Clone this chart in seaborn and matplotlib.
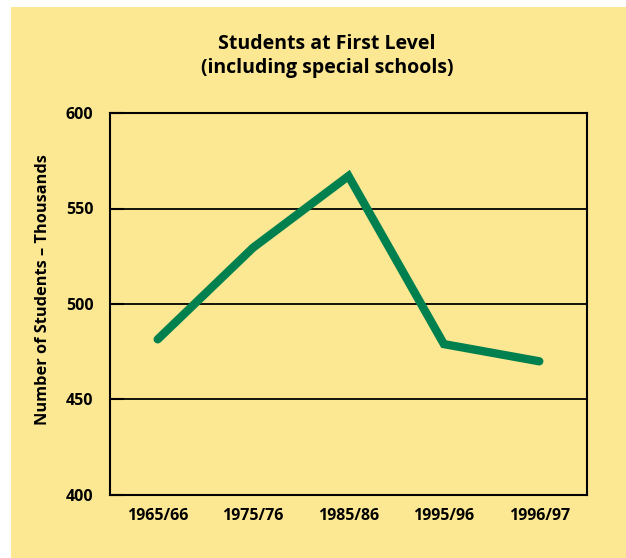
import matplotlib
matplotlib.use("Agg")
import matplotlib.pyplot as plt
import seaborn as sns
import pandas as pd
import numpy as np

years = ["1965/66", "1975/76", "1985/86", "1995/96", "1996/97"]
students = [481.5, 529.5, 567, 479, 470]
yticks = [400, 450, 500, 550, 600]

sns.set_theme(style="white")
plt.rcParams['font.family'] = ['Open Sans', 'DejaVu Sans']
plt.rcParams['text.color'] = 'black'
plt.rcParams['xtick.color'] = 'black'
plt.rcParams['ytick.color'] = 'black'
plt.rcParams['axes.labelcolor'] = 'black'

bg = "#FCE892"
green = "#00804F"

fig = plt.figure(figsize=(6.26, 5.58), dpi=100, facecolor="white")
fig.patches.append(matplotlib.patches.Rectangle((11/626, 0), 1, 1 - 7/558,
                   transform=fig.transFigure, facecolor=bg, edgecolor="none", zorder=-10))

ax = fig.add_axes([110/626, 1 - 495/558, (587 - 110)/626, (495 - 113)/558])
ax.set_facecolor(bg)

df = pd.DataFrame({"year": years, "students": students})
df["pos"] = np.arange(len(years))
sns.lineplot(data=df, x="pos", y="students", ax=ax, color=green, linewidth=6,
             solid_capstyle="round", solid_joinstyle="miter", sort=False, zorder=3)

ax.set_xlim(-0.5, len(years) - 0.5)
ax.set_ylim(400, 600)
ax.set_yticks(yticks)
ax.set_yticklabels([str(v) for v in yticks], fontweight="bold", fontsize=11.5)
ax.set_xticks(np.arange(len(years)))
ax.set_xticklabels(years, fontweight="bold", fontsize=11.5)
ax.set_xticks(np.arange(len(years)) + 0.5, minor=True)
ax.tick_params(axis="x", which="major", length=0, pad=9)
ax.tick_params(axis="x", which="minor", direction="in", length=9, width=1.3, color="black")
ax.tick_params(axis="y", direction="in", length=10, width=1.5, color="black", pad=12)
ax.tick_params(left=True, bottom=True)
for v in yticks[1:-1]:
    ax.axhline(v, color="black", linewidth=1.3, zorder=1)
for s in ax.spines.values():
    s.set_color("black")
    s.set_linewidth(1.5)
    s.set_visible(True)
ax.set_xlabel("")
ax.set_ylabel("")

fig.text(43/626, 1 - 290/558, "Number of Students \u2013 Thousands", rotation=90,
         ha="center", va="center", fontweight="bold", fontsize=11.8)

fig.text(327/626, 1 - 56/558, "Students at First Level\n(including special schools)",
         ha="center", va="center", fontweight="bold", fontsize=14, linespacing=1.25)

fig.savefig("out.png", dpi=100, facecolor="white")
